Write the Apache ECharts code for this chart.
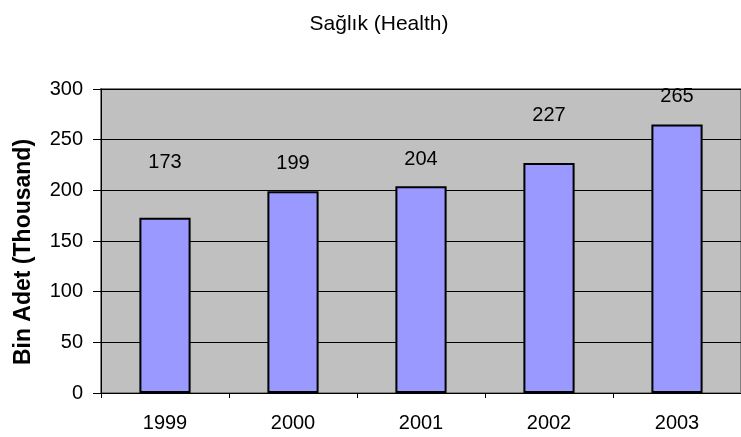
<!DOCTYPE html>
<html>
<head>
<meta charset="utf-8">
<script src="https://cdn.jsdelivr.net/npm/echarts@6/dist/echarts.min.js"></script>
<style>
  html, body { margin: 0; padding: 0; background: #ffffff; }
  #chart { width: 741px; height: 437px; }
</style>
</head>
<body>
<div id="chart"></div>
<script>
// Yearly totals, in thousands
const years = ['1999', '2000', '2001', '2002', '2003'];
const totals = [173, 199, 204, 227, 265];
// Vertical nudge of each value label above its bar
const labelLift = [-40, -13, -12, -32, -13];

const yTicks = { min: 0, max: 300, step: 50 };

const FONT = '"Liberation Sans", Arial, sans-serif';

const chart = echarts.init(document.getElementById('chart'));

chart.setOption({
  animation: false,
  backgroundColor: '#ffffff',
  title: {
    text: 'Sağlık (Health)',
    left: 374,
    top: 9,
    textAlign: 'center',
    textStyle: { fontFamily: FONT, fontSize: 21, fontWeight: 'normal', color: '#000' }
  },
  grid: {
    left: 101,
    top: 89,
    width: 650,
    height: 304,
    show: true,
    backgroundColor: '#C0C0C0',
    borderColor: '#808080',
    borderWidth: 2
  },
  xAxis: {
    type: 'category',
    data: years,
    boundaryGap: true,
    axisLine: { show: true, lineStyle: { color: '#000', width: 1 } },
    axisTick: { show: true, length: 5, lineStyle: { color: '#000' } },
    axisLabel: { margin: 20, fontFamily: FONT, fontSize: 20, color: '#000' },
    splitLine: { show: false }
  },
  yAxis: {
    type: 'value',
    min: yTicks.min,
    max: yTicks.max,
    interval: yTicks.step,
    name: 'Bin Adet (Thousand)',
    nameLocation: 'middle',
    nameGap: 66,
    nameRotate: 90,
    nameTextStyle: {
      fontFamily: FONT, fontSize: 23, fontWeight: 'bold', color: '#000',
      padding: [0, 22, 0, 0]
    },
    axisLine: { show: true, lineStyle: { color: '#000', width: 1 } },
    axisTick: { show: true, length: 8, lineStyle: { color: '#000' } },
    axisLabel: { margin: 18, fontFamily: FONT, fontSize: 20, color: '#000' },
    splitLine: { show: true, lineStyle: { color: '#000', width: 1 } }
  },
  series: [{
    type: 'bar',
    barWidth: '40%',
    data: totals.map((v, i) => ({
      value: v,
      label: { offset: [0, labelLift[i]] }
    })),
    itemStyle: { color: '#9999FF', borderColor: '#000', borderWidth: 2 },
    label: {
      show: true,
      position: 'top',
      distance: 5,
      fontFamily: FONT,
      fontSize: 20,
      color: '#000'
    }
  }]
});
</script>
</body>
</html>
